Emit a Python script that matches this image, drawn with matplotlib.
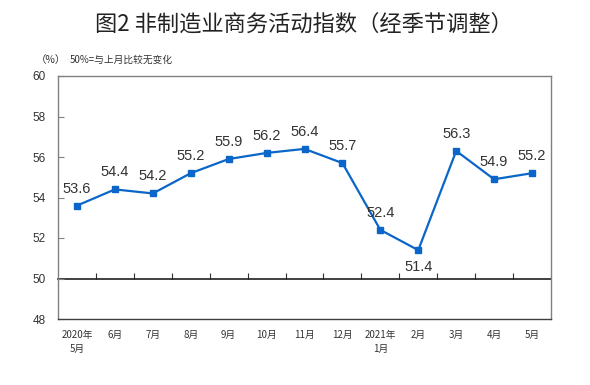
import matplotlib
matplotlib.use('Agg')
import matplotlib.pyplot as plt
import numpy as np

# data
months = ['2020年\n5月', '6月', '7月', '8月', '9月', '10月', '11月', '12月',
          '2021年\n1月', '2月', '3月', '4月', '5月']
values = [53.6, 54.4, 54.2, 55.2, 55.9, 56.2, 56.4, 55.7, 52.4, 51.4, 56.3, 54.9, 55.2]
yticks = [48, 50, 52, 54, 56, 58, 60]

cjk = ['Noto Sans CJK SC', 'DejaVu Sans']
num = ['Liberation Sans', 'DejaVu Sans']
text_color = '#333333'
line_color = '#0a66c8'

fig = plt.figure(figsize=(5.9, 3.85), dpi=100)
ax = fig.add_axes([58 / 590, 1 - 319 / 385, (551 - 58) / 590, (319 - 76) / 385])

x = np.arange(len(values))
ax.plot(x, values, color=line_color, lw=1.6, marker='s', ms=4.5, zorder=3)

for xi, v in zip(x, values):
    below = v == min(values)
    ax.annotate(f'{v:.1f}', (xi, v), xytext=(0, -17 if below else 17),
                textcoords='offset pixels',
                ha='center', va='center', fontsize=10.5, family=num,
                color=text_color)

ax.set_xlim(-0.5, len(values) - 0.5)
ax.set_ylim(48, 60)
ax.set_yticks(yticks)
ax.set_yticklabels([str(t) for t in yticks], family=num, fontsize=8.5,
                   color=text_color)
ax.tick_params(axis='y', direction='in', length=4, pad=9, color='#808080')
ax.set_xticks(x)
ax.set_xticklabels(months, family=cjk, fontsize=7, color=text_color,
                   linespacing=1.5)
ax.tick_params(axis='x', length=0, pad=8)

for s in ['left', 'top', 'right']:
    ax.spines[s].set_color('#808080')
ax.spines['bottom'].set_color('#404040')
for s in ax.spines.values():
    s.set_linewidth(1)

# the 50% line with category separators
sec = ax.secondary_xaxis((50 - 48) / (60 - 48))
sec.set_xticks(x[:-1] + 0.5)
sec.set_xticklabels([])
sec.tick_params(direction='in', length=4, color='#303030')
sec.spines['bottom'].set_color('#202020')
sec.spines['bottom'].set_linewidth(1.2)

fig.text(0.515, 1 - 24 / 385, '图2 非制造业商务活动指数（经季节调整）',
         ha='center', va='center', fontsize=16, family=cjk, weight='medium',
         color='#222222')
fig.text(36 / 590, 1 - 60 / 385, '（%）', ha='left', va='center', fontsize=7.5,
         family=cjk, color=text_color)
fig.text(70 / 590, 1 - 60 / 385, '50%=与上月比较无变化', ha='left', va='center',
         fontsize=7, family=cjk, color=text_color)

fig.savefig('out.png', dpi=100)
